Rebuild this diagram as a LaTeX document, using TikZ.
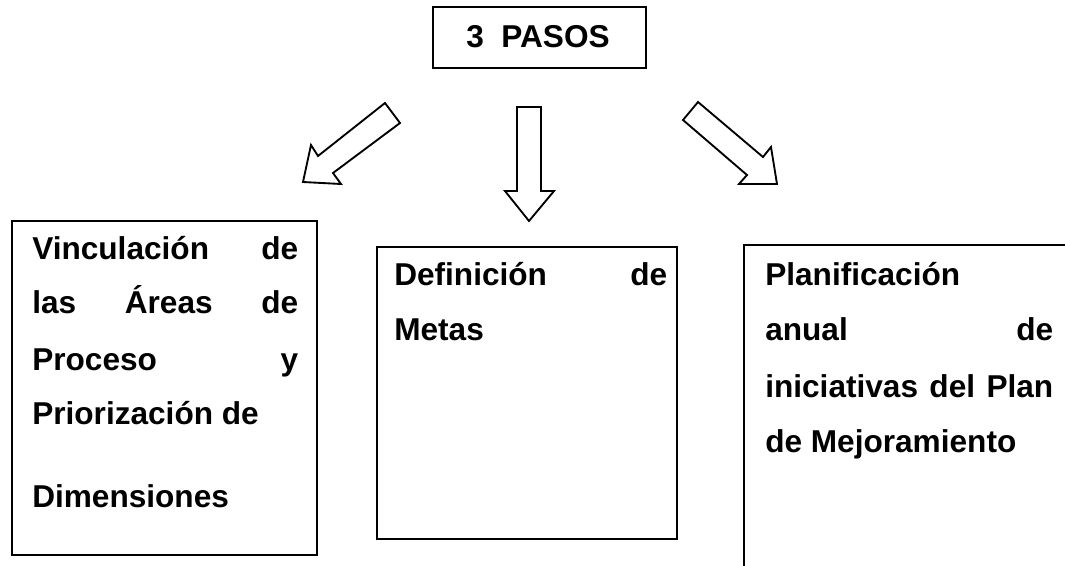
\documentclass[tikz,border=0pt]{standalone}
\usepackage{fontspec}
\setmainfont{Liberation Sans}
\newcommand{\jline}[2]{\hbox to #1{#2}}
\begin{document}
\begin{tikzpicture}[x=0.75pt,y=-0.75pt,
  frame/.style={draw=black,line width=1.5pt},
  blockarrow/.style={draw=black,line width=1.4pt,line join=miter,fill=white},
  txt/.style={anchor=base west,inner sep=0pt,font=\fontsize{23.7}{28}\selectfont\bfseries}]
\useasboundingbox (0,0) rectangle (1065,565);
% title box
\node[frame,minimum width=159.75pt,minimum height=45.75pt,inner sep=0pt] (title) at (539.5,37.5) {};
\node[txt] (titletext) at (466,47) {3\ \ PASOS};
% block arrows
\draw[blockarrow] (385,103) -- (400,123) -- (333,173) -- (341,184) -- (303,182) -- (311,145) -- (318,156) -- cycle;
\draw[blockarrow] (517,107) -- (541,107) -- (541,191) -- (554,191) -- (529,221) -- (505,191) -- (517,191) -- cycle;
\draw[blockarrow] (698,102) -- (683,120) -- (747,175) -- (739,184) -- (777,184) -- (771,147) -- (763,157) -- cycle;
% box 1
\draw[frame] (12,221) rectangle (317,555);
\node[txt] (a1) at (32,259) {\jline{199.5pt}{Vinculación\hfill de}};
\node[txt] (a2) at (32,313) {\jline{199.5pt}{las\hfill Áreas\hfill de}};
\node[txt] (a3) at (32,370) {\jline{199.5pt}{Proceso\hfill y}};
\node[txt] (a4) at (32,424) {Priorización de};
\node[txt] (a5) at (32,507) {Dimensiones};
% box 2
\draw[frame] (377,247) rectangle (677,539);
\node[txt] (b1) at (394,285) {\jline{204.75pt}{Definición\hfill de}};
\node[txt] (b2) at (394,340) {Metas};
% box 3 (cut off at the right and bottom)
\draw[frame] (744,570) -- (744,245) -- (1070,245);
\node[txt] (c1) at (765,285) {Planificación};
\node[txt] (c2) at (765,340) {\jline{216pt}{anual\hfill de}};
\node[txt] (c3) at (765,397) {\jline{216pt}{iniciativas\hfill del\hfill Plan}};
\node[txt] (c4) at (765,452) {de Mejoramiento};
\end{tikzpicture}
\end{document}
